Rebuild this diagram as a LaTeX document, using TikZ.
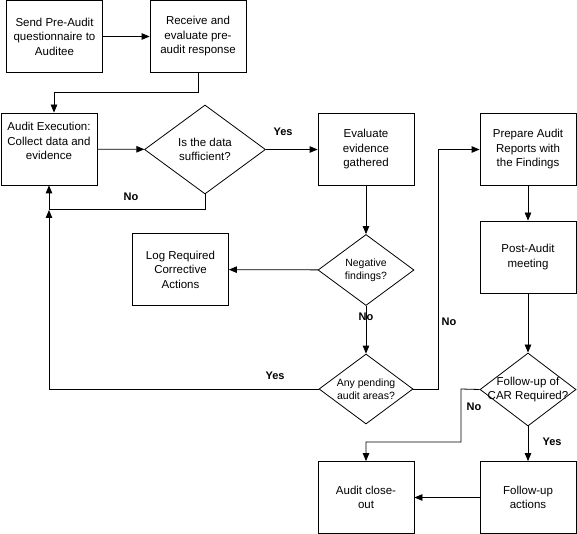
\documentclass[tikz,border=0pt]{standalone}
\usepackage{fontspec}
\setmainfont{Liberation Sans}
\usetikzlibrary{arrows.meta,shapes.geometric}
\begin{document}
\begin{tikzpicture}[x=1pt,y=-1pt,line width=0.8pt,
  box/.style={draw, minimum width=96pt, minimum height=72pt, inner sep=0pt, align=center, font=\fontsize{11.5}{14.5}\selectfont},
  dia/.style={draw, diamond, inner sep=0pt},
  dtext/.style={align=center, inner sep=0pt, font=\fontsize{11.5}{14.5}\selectfont},
  dtexts/.style={align=center, inner sep=0pt, font=\fontsize{10.5}{13}\selectfont},
  lbl/.style={inner sep=0pt, font=\bfseries\fontsize{11}{13}\selectfont},
  arr/.style={-{Triangle[length=8pt,width=6.5pt]}}
]
\useasboundingbox (0,0) rectangle (577,534);
% boxes
\node[box] (send) at (54.5,36.5) {Send Pre-Audit\\questionnaire to\\Auditee};
\node[box] (recv) at (198,36.5) {Receive and\\evaluate pre-\\audit response};
\node[box] (exec) at (49,149) {Audit Execution:\\Collect data and\\evidence\\[1pt]};
\node[box] (eval) at (366,149.5) {Evaluate\\evidence\\gathered};
\node[box] (prep) at (528,149.5) {Prepare Audit\\Reports with\\the Findings};
\node[box] (post) at (528,257) {Post-Audit\\meeting};
\node[box] (log) at (180.5,269.5) {Log Required\\Corrective\\Actions};
\node[box] (close) at (366,497.5) {Audit close-\\out};
\node[box] (fup) at (528,497.5) {Follow-up\\actions};
% diamonds
\node[dia, minimum width=121pt, minimum height=89pt] (d1) at (205,149.5) {};
\node[dtext] (d1t) at (d1) {Is the data\\sufficient?};
\node[dia, minimum width=96pt, minimum height=71pt] (neg) at (366,270) {};
\node[dtexts] (negt) at (neg) {Negative\\findings?};
\node[dia, minimum width=94pt, minimum height=70pt] (any) at (366,389) {};
\node[dtexts] (anyt) at (any) {Any pending\\audit areas?};
\node[dia, minimum width=96pt, minimum height=73pt] (fol) at (528,389.5) {};
\node[dtext] (folt) at (fol) {Follow-up of\\CAR Required?};
% coordinates
\coordinate (c1) at (54,92);
\coordinate (c2) at (49,209);
\coordinate (c3) at (49,210);
\coordinate (c4) at (438,389);
\coordinate (c5) at (461,389);
\coordinate (c6) at (366,442);
% connectors
\draw[arr] (send) -- (recv);
\draw[arr] (recv.south) |- (c1) -- (c1 |- exec.north);
\draw[arr] (exec) -- (d1);
\draw[arr] (d1) -- (eval);
\draw[arr] (d1.south) |- (c2) -- (exec.south);
\draw[arr] (eval) -- (neg);
\draw[arr] (neg) -- (log);
\draw[arr] (neg) -- (any);
\draw[arr] (any.west) -| (c3);
\draw[arr] (any.east) -- (c4) |- (prep.west);
\draw[arr] (prep) -- (post);
\draw[arr] (post) -- (fol);
\draw[arr] (fol.west) -- (c5) |- (c6) -- (close.north);
\draw[arr] (fol) -- (fup);
\draw[arr] (fup) -- (close);
% labels
\node[lbl] (yes1) at (283,132) {Yes};
\node[lbl] (no1) at (131,197) {No};
\node[lbl] (no2) at (366,317) {No};
\node[lbl] (yes2) at (275,376) {Yes};
\node[lbl] (no3) at (449,322) {No};
\node[lbl] (no4) at (474,407) {No};
\node[lbl] (yes3) at (552,442) {Yes};
\end{tikzpicture}
\end{document}
